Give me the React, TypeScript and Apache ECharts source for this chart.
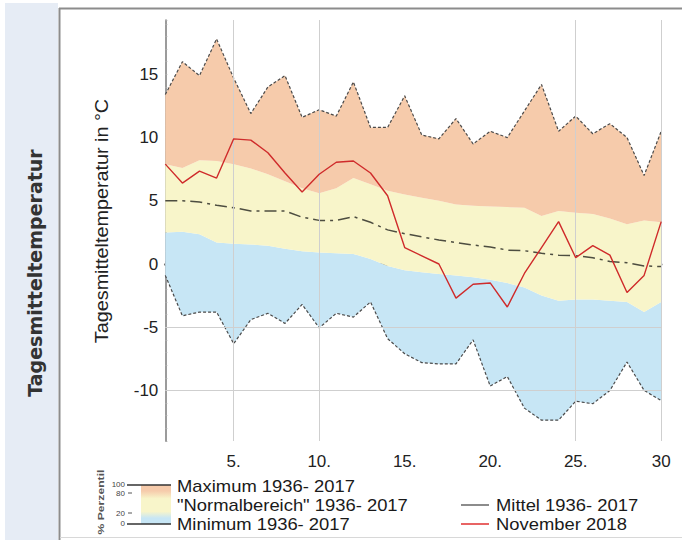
import React, { useEffect, useRef } from 'react';
import * as echarts from 'echarts';

const days = ['1', '2', '3', '4', '5', '6', '7', '8', '9', '10', '11', '12', '13', '14', '15', '16', '17', '18', '19', '20', '21', '22', '23', '24', '25', '26', '27', '28', '29', '30'];

const maxT = [13.4, 16.0, 14.9, 17.8, 14.7, 11.9, 14.0, 14.9, 11.6, 12.2, 11.7, 14.4, 10.8, 10.8, 13.3, 10.2, 9.9, 11.5, 9.5, 10.5, 10.0, 12.1, 14.2, 10.5, 11.7, 10.3, 11.1, 10.0, 7.0, 10.5];
const p80 = [7.9, 7.6, 8.2, 8.15, 7.9, 7.55, 7.1, 6.55, 6.0, 5.6, 6.0, 6.8, 6.3, 5.8, 5.5, 5.25, 5.0, 4.7, 4.6, 4.55, 4.5, 4.45, 3.8, 4.2, 4.05, 3.95, 3.6, 3.15, 3.45, 3.3];
const p20 = [2.5, 2.55, 2.35, 1.7, 1.6, 1.55, 1.45, 1.2, 1.0, 0.9, 0.85, 0.8, 0.4, -0.15, -0.5, -0.65, -0.8, -0.9, -1.05, -1.25, -1.5, -1.85, -2.5, -2.9, -2.8, -2.8, -2.9, -3.0, -3.8, -3.0];
const minT = [-0.9, -4.1, -3.8, -3.8, -6.3, -4.4, -3.9, -4.7, -3.2, -5.05, -3.9, -4.2, -3.0, -5.9, -7.1, -7.8, -7.9, -7.9, -6.0, -9.65, -8.9, -11.4, -12.35, -12.35, -10.85, -11.05, -10.0, -7.75, -10.0, -10.8];
const meanT = [5.0, 5.0, 4.9, 4.65, 4.45, 4.2, 4.2, 4.2, 3.7, 3.45, 3.45, 3.75, 3.3, 2.7, 2.4, 2.15, 1.9, 1.7, 1.5, 1.35, 1.1, 1.05, 0.85, 0.7, 0.65, 0.5, 0.2, 0.1, -0.15, -0.2];
const nov2018 = [7.9, 6.4, 7.35, 6.8, 9.9, 9.8, 8.8, 7.2, 5.7, 7.1, 8.05, 8.15, 7.2, 5.4, 1.3, 0.65, 0.0, -2.7, -1.6, -1.5, -3.4, -0.75, 1.3, 3.35, 0.5, 1.45, 0.7, -2.25, -0.9, 3.35];

const gridDays = ['5', '10', '25', '30'];
const gridTemps = [-5, -10];
const yTickLabels = [-10, -5, 0, 5, 10, 15];

const legendLeft = ['Maximum 1936- 2017', '"Normalbereich" 1936- 2017', 'Minimum 1936- 2017'];
const legendRight = ['Mittel 1936- 2017', 'November 2018'];
const percentileLabels = ['100', '80', '20', '0'];

const ORANGE = '#f6cbab';
const YELLOW = '#f8f5ca';
const BLUE = '#c7e6f5';

export default function App() {
  const ref = useRef<HTMLDivElement>(null);
  useEffect(() => {
    const chart = echarts.init(ref.current!, null, { renderer: 'svg' });
    const diff = (a: number[], b: number[]) => a.map((v, i) => +(v - b[i]).toFixed(3));
    const band = (name: string, data: number[], color?: string) => ({
      type: 'line',
      name,
      data,
      stack: 'band',
      stackStrategy: 'all',
      symbol: 'none',
      silent: true,
      z: 1,
      lineStyle: { opacity: 0 },
      areaStyle: color ? { color, opacity: 1 } : undefined,
    });
    const font = '"Liberation Sans", Arial, sans-serif';
    const txt = (text: string, x: number, y: number, extra: any = {}) => ({
      type: 'text',
      x,
      y,
      silent: true,
      scaleX: extra.scaleX ?? 1,
      rotation: extra.rotation ?? 0,
      style: {
        text,
        fill: extra.fill ?? '#1a1a1a',
        font: extra.font ?? `16px ${font}`,
        align: extra.align ?? 'left',
        textAlign: extra.align ?? 'left',
        verticalAlign: 'middle',
        textVerticalAlign: 'middle',
      },
    });
    const line = (x1: number, y1: number, x2: number, y2: number, stroke: string, lineWidth = 1.5) => ({
      type: 'line',
      silent: true,
      shape: { x1, y1, x2, y2 },
      style: { stroke, lineWidth },
    });
    const pctY = [484, 493, 513, 523];

    const option: any = {
      animation: false,
      backgroundColor: '#ffffff',
      grid: { left: 165.3, right: 20.8, top: 20, bottom: 99 },
      xAxis: {
        type: 'category',
        data: days,
        boundaryGap: false,
        axisLine: { lineStyle: { color: '#6b6b6b', width: 2.5 } },
        axisTick: { show: true, inside: true, length: 3, interval: 0, lineStyle: { color: '#888' } },
        axisLabel: {
          interval: (i: number, v: string) => Number(v) % 5 === 0,
          formatter: (v: string) => (v === '30' ? '30' : v + '.'),
          fontSize: 17,
          fontFamily: font,
          color: '#222',
          margin: 12,
        },
        splitLine: { show: false },
      },
      yAxis: {
        type: 'value',
        min: -14,
        max: 19.3,
        interval: 1,
        axisLine: { show: true, lineStyle: { color: '#7a7a7a', width: 1.5 } },
        axisTick: { show: true, inside: true, length: 2, lineStyle: { color: '#aaa' } },
        axisLabel: {
          formatter: (v: number) => (yTickLabels.indexOf(v) >= 0 ? String(v) : ''),
          fontSize: 17,
          fontFamily: font,
          color: '#222',
          margin: 7,
        },
        splitLine: { show: false },
      },
      series: [
        band('base', minT),
        band('Minimum', diff(p20, minT), BLUE),
        band('Normalbereich', diff(p80, p20), YELLOW),
        band('Maximum band', diff(maxT, p80), ORANGE),
        {
          type: 'line',
          name: 'grid',
          data: minT,
          symbol: 'none',
          silent: true,
          z: 3,
          lineStyle: { opacity: 0 },
          markLine: {
            silent: true,
            symbol: 'none',
            label: { show: false },
            lineStyle: { color: '#cfcfcf', width: 1, type: 'solid' },
            data: [
              ...gridDays.map((d) => ({ xAxis: d })),
              ...gridTemps.map((t) => ({ yAxis: t })),
            ],
          },
        },
        {
          type: 'line', name: 'Maximum 1936- 2017', data: maxT, symbol: 'none', silent: true, z: 4,
          lineStyle: { color: '#4a4a4a', width: 1.2, type: [3, 2] },
        },
        {
          type: 'line', name: 'Minimum 1936- 2017', data: minT, symbol: 'none', silent: true, z: 4,
          lineStyle: { color: '#4a4a4a', width: 1.2, type: [3, 2] },
        },
        {
          type: 'line', name: 'Mittel 1936- 2017', data: meanT, symbol: 'none', silent: true, z: 4,
          lineStyle: { color: '#4d4d40', width: 1.5, type: [12, 5, 3, 5] },
        },
        {
          type: 'line', name: 'November 2018', data: nov2018, symbol: 'none', silent: true, z: 5,
          lineStyle: { color: '#cf2b2b', width: 1.4 },
        },
      ],
      graphic: [
        { type: 'rect', silent: true, z: -1, shape: { x: 5, y: 3, width: 53, height: 537 }, style: { fill: '#e6ecf5' } },
        line(59.5, 8, 59.5, 540, '#8c8c8c', 2),
        line(59, 8.5, 682, 8.5, '#8c8c8c', 2),
        line(60, 537.5, 682, 537.5, '#d8d8d8', 1),
        txt('Tagesmitteltemperatur', 35, 273, {
          rotation: Math.PI / 2,
          align: 'center',
          font: 'bold 19px "DejaVu Sans", Verdana, sans-serif',
          fill: '#333',
        }),
        txt('Tagesmitteltemperatur in °C', 102, 221, {
          rotation: Math.PI / 2,
          align: 'center',
          fill: '#222',
          font: `18px ${font}`,
          scaleX: 1.1,
        }),
        {
          type: 'rect',
          silent: true,
          shape: { x: 141, y: 485, width: 30, height: 39 },
          style: {
            fill: new echarts.graphic.LinearGradient(0, 0, 0, 1, [
              { offset: 0, color: ORANGE },
              { offset: 0.15, color: ORANGE },
              { offset: 0.35, color: YELLOW },
              { offset: 0.68, color: YELLOW },
              { offset: 0.85, color: BLUE },
              { offset: 1, color: BLUE },
            ]),
          },
        },
        line(127, 485, 171, 485, '#333', 1.5),
        line(127, 524, 171, 524, '#333', 1.5),
        line(128, 493, 132, 493, '#555', 1),
        line(128, 513, 132, 513, '#555', 1),
        ...percentileLabels.map((l, i) => txt(l, 125, pctY[i], { align: 'right', font: `8px ${font}`, fill: '#444' })),
        txt('% Perzentil', 101, 502, {
          rotation: Math.PI / 2,
          align: 'center',
          font: `bold 9px ${font}`,
          fill: '#555',
          scaleX: 1.35,
        }),
        ...legendLeft.map((l, i) => txt(l, 177, 486 + i * 19, { scaleX: 1.15 })),
        ...legendRight.map((l, i) => txt(l, 496, 505 + i * 19, { scaleX: 1.15 })),
        line(461, 505, 489, 505, '#666', 1.5),
        line(461, 524, 489, 524, '#e03030', 1.5),
      ],
    };
    chart.setOption(option);
    return () => chart.dispose();
  }, []);
  return (
    <div
      ref={ref}
      style={{ position: 'fixed', left: 0, top: 0, width: 682, height: 540, background: '#fff' }}
    />
  );
}
